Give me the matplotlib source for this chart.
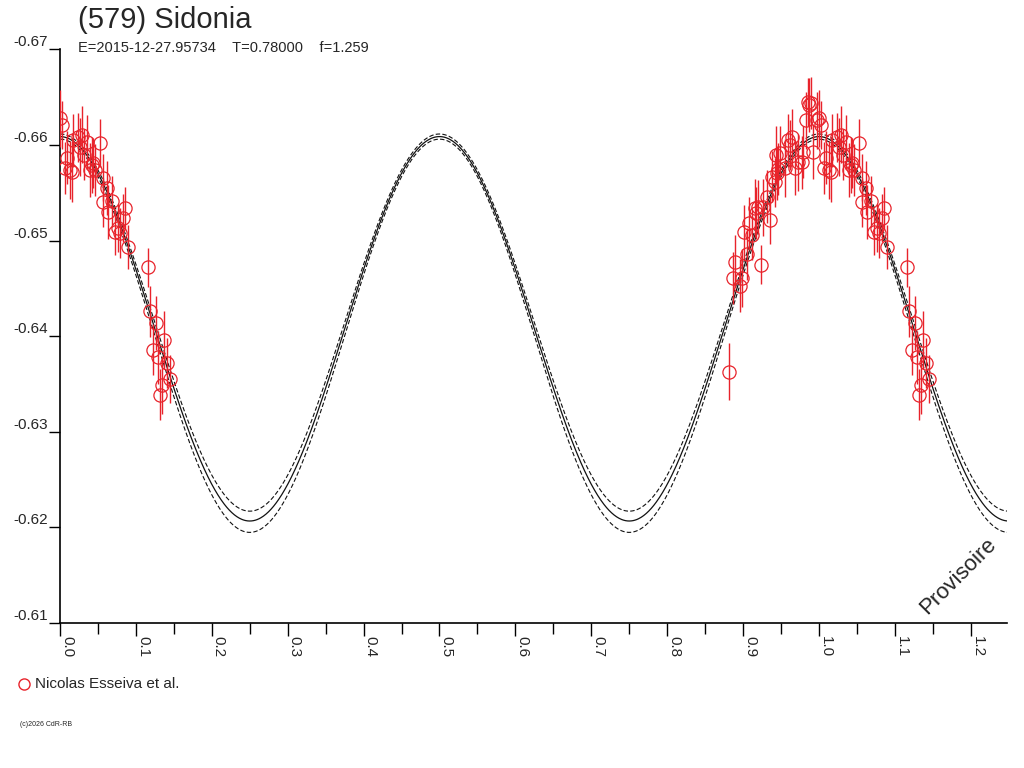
import numpy as np
import matplotlib
matplotlib.use('Agg')
import matplotlib.pyplot as plt
from matplotlib.lines import Line2D

plt.rcParams['font.family'] = ['Liberation Sans', 'DejaVu Sans']

# observations (phase, reduced magnitude, error)
phase = [0.000, 0.003, 0.009, 0.007, 0.013, 0.016, 0.017, 0.024, 0.029, 0.036,
         0.026, 0.032, 0.053, 0.042, 0.043, 0.040, 0.046, 0.057, 0.062, 0.057,
         0.069, 0.063, 0.086, 0.083, 0.072, 0.079, 0.076, 0.090, 0.116, 0.119,
         0.126, 0.137, 0.123, 0.129, 0.141, 0.145, 0.134, 0.132,
         -0.119, -0.111, -0.113, -0.101, -0.104, -0.076, -0.095, -0.099, -0.088, -0.092,
         -0.083, -0.084, -0.080, -0.074, -0.065, -0.069, -0.062, -0.058, -0.055, -0.057,
         -0.051, -0.054, -0.045, -0.041, -0.036, -0.038, -0.032, -0.028, -0.021, -0.022,
         -0.017, -0.014, -0.011, -0.013, -0.008, -0.003]
mag = [-0.6628, -0.6621, -0.6587, -0.6576, -0.6574, -0.6572, -0.6605, -0.6608, -0.6611, -0.6603,
       -0.6598, -0.6590, -0.6602, -0.6579, -0.6581, -0.6574, -0.6574, -0.6566, -0.6555, -0.6540,
       -0.6541, -0.6530, -0.6534, -0.6524, -0.6509, -0.6508, -0.6513, -0.6493, -0.6472, -0.6426,
       -0.6414, -0.6396, -0.6386, -0.6378, -0.6372, -0.6355, -0.6349, -0.6339,
       -0.6363, -0.6478, -0.6461, -0.6461, -0.6453, -0.6475, -0.6486, -0.6509, -0.6506, -0.6518,
       -0.6529, -0.6534, -0.6535, -0.6535, -0.6522, -0.6546, -0.6567, -0.6561, -0.6571, -0.6590,
       -0.6592, -0.6575, -0.6576, -0.6605, -0.6608, -0.6600, -0.6576, -0.6582, -0.6593, -0.6582,
       -0.6626, -0.6645, -0.6644, -0.6642, -0.6593, -0.6626]
err = [0.0030, 0.0025, 0.0028, 0.0027, 0.0030, 0.0032, 0.0028, 0.0026, 0.0030, 0.0028,
       0.0030, 0.0027, 0.0025, 0.0029, 0.0026, 0.0028, 0.0027, 0.0025, 0.0028, 0.0026,
       0.0027, 0.0028, 0.0022, 0.0025, 0.0024, 0.0026, 0.0025, 0.0023, 0.0020, 0.0027,
       0.0028, 0.0030, 0.0027, 0.0028, 0.0026, 0.0025, 0.0030, 0.0027,
       0.0030, 0.0028, 0.0027, 0.0030, 0.0028, 0.0020, 0.0027, 0.0028, 0.0026, 0.0028,
       0.0027, 0.0030, 0.0028, 0.0030, 0.0025, 0.0028, 0.0027, 0.0026, 0.0028, 0.0030,
       0.0028, 0.0027, 0.0030, 0.0028, 0.0030, 0.0026, 0.0028, 0.0030, 0.0027, 0.0028,
       0.0030, 0.0025, 0.0027, 0.0028, 0.0029, 0.0030]

# fit curve and its two envelopes (mean, half amplitude)
fit_mean, fit_amp = -0.64078, 0.02011
up_mean, up_amp = -0.64143, 0.01973
lo_mean, lo_amp = -0.64005, 0.02057

XMAX = 1.2477
red = '#e8232b'
ink = '#262626'

fig = plt.figure(figsize=(10.24, 7.68), dpi=100)
ax = fig.add_axes([60/1024, 1-623/768, 947/1024, 573.5/768])

ph = np.array(phase)
mg = np.array(mag)
er = np.array(err)
xs = np.concatenate([ph, ph + 1])
ys = np.concatenate([mg, mg])
es = np.concatenate([er, er])
keep = (xs >= 0) & (xs <= XMAX)
ax.errorbar(xs[keep], ys[keep], yerr=es[keep], fmt='o', mfc='none', mec=red,
            ecolor=red, ms=9.5, mew=0.9, elinewidth=1, capsize=0, zorder=3)

t = np.linspace(0, XMAX, 1500)
ax.plot(t, fit_mean - fit_amp*np.cos(4*np.pi*t), color='#111111', lw=0.9, zorder=2)
ax.plot(t, up_mean - up_amp*np.cos(4*np.pi*t), color='#111111', lw=0.8, ls=(0, (4, 2)), zorder=2)
ax.plot(t, lo_mean - lo_amp*np.cos(4*np.pi*t), color='#111111', lw=0.8, ls=(0, (4, 2)), zorder=2)

ax.set_xlim(0, XMAX)
ax.set_ylim(-0.61, -0.67)
for s in ['top', 'right']:
    ax.spines[s].set_visible(False)
for s in ['left', 'bottom']:
    ax.spines[s].set_linewidth(1.2)

yt = [-0.67, -0.66, -0.65, -0.64, -0.63, -0.62, -0.61]
ax.set_yticks(yt)
ax.set_yticklabels(['%.2f' % v for v in yt], fontsize=11, color=ink, va='bottom')
ax.tick_params(axis='y', length=8, width=1, pad=1)

xt = [0.0, 0.1, 0.2, 0.3, 0.4, 0.5, 0.6, 0.7, 0.8, 0.9, 1.0, 1.1, 1.2]
ax.set_xticks(xt)
ax.set_xticks([v + 0.05 for v in xt if v + 0.05 < XMAX], minor=True)
ax.set_xticklabels(['%.1f' % v for v in xt], fontsize=11, color=ink,
                   rotation=270, ha='left', va='top')
ax.tick_params(axis='x', which='major', length=9, width=1, pad=0)
ax.tick_params(axis='x', which='minor', length=8, width=1)

fig.text(78/1024, 1-20/768, '(579) Sidonia', fontsize=21, color=ink, va='center')
fig.text(78/1024, 1-48/768, 'E=2015-12-27.95734    T=0.78000    f=1.259',
         fontsize=10.5, color=ink, va='center')
fig.text(958/1024, 1-576/768, 'Provisoire', fontsize=16, color=ink,
         rotation=45, ha='center', va='center')

fig.add_artist(Line2D([24/1024], [1-684/768], marker='o', mfc='none', mec=red,
                      ms=8, mew=1, ls='none', transform=fig.transFigure))
fig.text(35/1024, 1-684/768, 'Nicolas Esseiva et al.', fontsize=11, color=ink, va='center')
fig.text(20/1024, 1-724/768, '(c)2026 CdR-RB', fontsize=5, color=ink, va='center')

fig.savefig('out.png', dpi=100, facecolor='white')
